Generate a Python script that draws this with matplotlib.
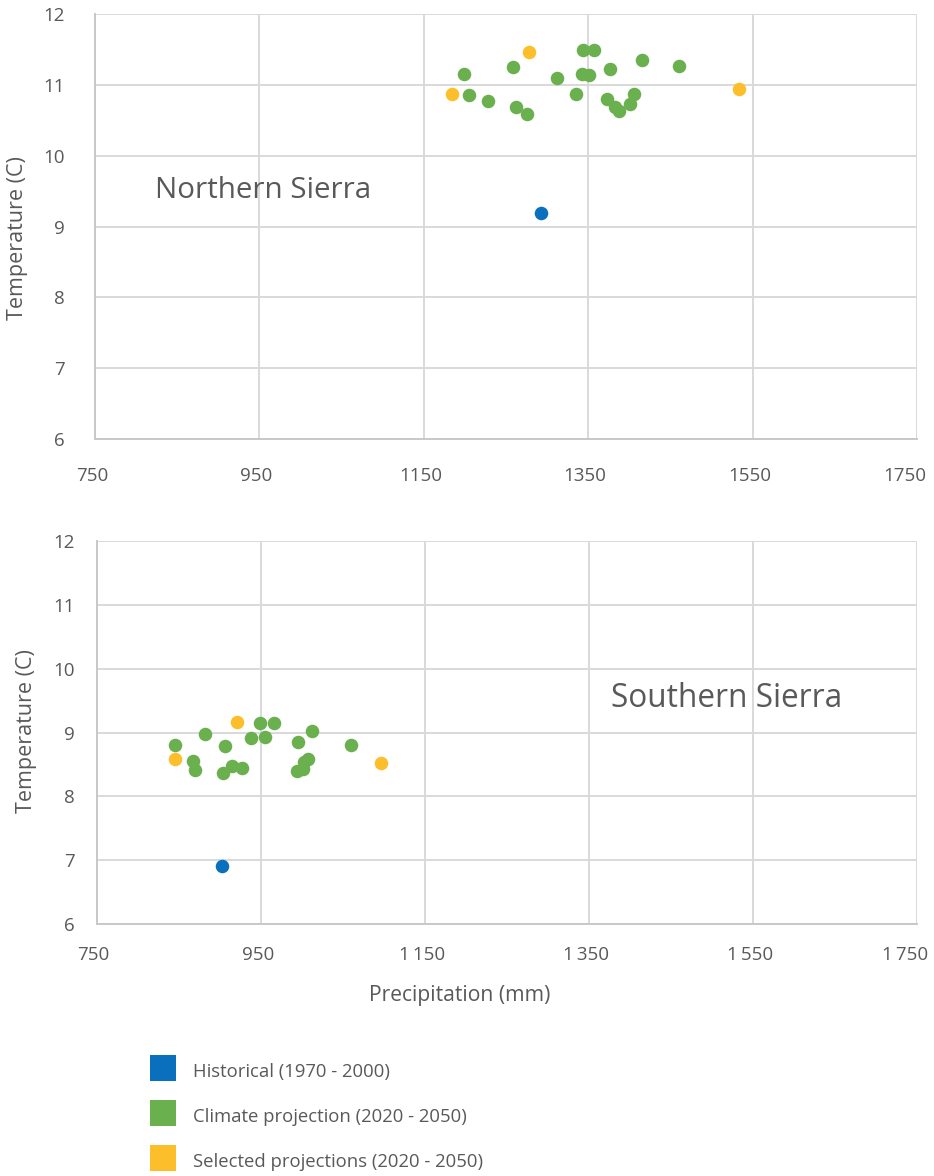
import matplotlib
matplotlib.use("Agg")
import matplotlib.pyplot as plt
import matplotlib.transforms as mtransforms
from matplotlib.lines import Line2D

plt.rcParams['font.family'] = ['Open Sans', 'DejaVu Sans']

# ---- data ----
north_hist_x = [1292]
north_hist_y = [9.19]
north_proj_x = [1199, 1205, 1228, 1258, 1262, 1276, 1312, 1335, 1344, 1357,
                1342, 1351, 1377, 1373, 1383, 1388, 1401, 1406, 1416, 1461]
north_proj_y = [11.16, 10.86, 10.77, 11.25, 10.69, 10.59, 11.10, 10.87, 11.49, 11.49,
                11.16, 11.14, 11.23, 10.80, 10.69, 10.63, 10.73, 10.87, 11.35, 11.26]
north_sel_x = [1184, 1278, 1533]
north_sel_y = [10.87, 11.47, 10.94]

south_hist_x = [903]
south_hist_y = [6.91]
south_proj_x = [949, 966, 882, 938, 955, 1013, 846, 906, 996, 1060,
                867, 870, 904, 915, 927, 1008, 1003, 1001, 994]
south_proj_y = [9.15, 9.15, 8.98, 8.91, 8.93, 9.03, 8.81, 8.79, 8.85, 8.81,
                8.55, 8.41, 8.37, 8.48, 8.44, 8.58, 8.54, 8.43, 8.40]
south_sel_x = [921, 846, 1097]
south_sel_y = [9.17, 8.59, 8.53]

x_ticks = [750, 950, 1150, 1350, 1550, 1750]
top_xlabels = ["750", "950", "1150", "1350", "1550", "1750"]
bot_xlabels = ["750", "950", "1\u2009150", "1\u2009350", "1\u2009550", "1\u2009750"]
y_ticks = [6, 7, 8, 9, 10, 11, 12]

series_names = ["Historical (1970 - 2000)", "Climate projection (2020 - 2050)",
                "Selected projections (2020 - 2050)"]
colors = ["#0A70BE", "#6AB04E", "#FDBE2B"]

TXT = "#595959"
GRID = "#D9D9D9"

fig = plt.figure(figsize=(9.34, 11.76), dpi=100)
ax1 = fig.add_axes([95/934, 1-439/1176, (917-95)/934, (439-14)/1176])
ax2 = fig.add_axes([96.7/934, 1-924/1176, (917-96.7)/934, (924-541)/1176])

def style(ax, xlabels, xpad, ypad):
    ax.set_xlim(750, 1750)
    ax.set_ylim(6, 12)
    ax.set_xticks(x_ticks)
    ax.set_xticklabels(xlabels)
    ax.set_yticks(y_ticks)
    ax.grid(True, color=GRID, linewidth=1.4, zorder=0)
    ax.set_axisbelow(True)
    for s in ['top', 'right']:
        ax.spines[s].set_visible(False)
    for s in ['left', 'bottom']:
        ax.spines[s].set_color("#C8C8C8")
        ax.spines[s].set_linewidth(1.4)
    ax.tick_params(axis='both', length=0, labelsize=13.5, colors=TXT)
    ax.tick_params(axis='x', pad=xpad)
    ax.tick_params(axis='y', pad=ypad)
    labs = ax.get_xticklabels()
    for i, lab in enumerate(labs):
        dx = -12 if i == len(labs) - 1 else -3
        lab.set_transform(lab.get_transform() +
                          mtransforms.ScaledTranslation(dx/100, 0, fig.dpi_scale_trans))

ms = 95
def plot(ax, hx, hy, px, py, sx, sy):
    ax.scatter(px, py, s=ms, color=colors[1], zorder=3, linewidths=0)
    ax.scatter(sx, sy, s=ms, color=colors[2], zorder=3, linewidths=0)
    ax.scatter(hx, hy, s=ms, color=colors[0], zorder=3, linewidths=0)

plot(ax1, north_hist_x, north_hist_y, north_proj_x, north_proj_y, north_sel_x, north_sel_y)
plot(ax2, south_hist_x, south_hist_y, south_proj_x, south_proj_y, south_sel_x, south_sel_y)
style(ax1, top_xlabels, 20, 22)
style(ax2, bot_xlabels, 16, 16)

ax1.text(823, 9.51, "Northern Sierra", fontsize=21.3, color=TXT, va='center', ha='left')
ax2.text(1377, 9.54, "Southern Sierra", fontsize=22.8, color=TXT, va='center', ha='left')

fig.text(18/934, 1-238/1176, "Temperature (C)", rotation=90, fontsize=15.5,
         color=TXT, ha='center', va='center')
fig.text(27/934, 1-731/1176, "Temperature (C)", rotation=90, fontsize=15.5,
         color=TXT, ha='center', va='center')
fig.text(460/934, 1-995/1176, "Precipitation (mm)", fontsize=15.2, color=TXT,
         ha='center', va='center')

handles = [Line2D([], [], linestyle='none', marker='s', markersize=18.7,
                  markerfacecolor=c, markeredgewidth=0) for c in colors]
fig.legend(handles, series_names, loc='upper left',
           bbox_to_anchor=(150/934, 1-1060/1176), frameon=False,
           fontsize=13.3, labelcolor=TXT, handlelength=1.41, handleheight=1.41,
           handletextpad=0.92, labelspacing=1.27, borderpad=0, borderaxespad=0)

fig.savefig("out.png", dpi=100)
